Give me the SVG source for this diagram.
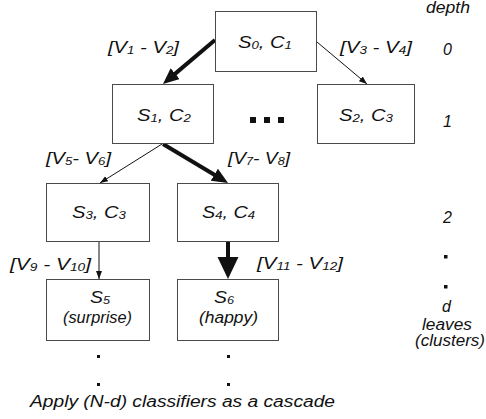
<svg xmlns="http://www.w3.org/2000/svg" width="486" height="419" viewBox="0 0 486 419">
<style>
.box{fill:#fff;stroke:#4a4a4a;stroke-width:1}
.t{font-family:"Liberation Sans",Arial,sans-serif;font-style:italic;font-size:16px;fill:#111}
.sub{font-size:10.5px}
.thin{stroke:#111;stroke-width:1;fill:none}
.thick{stroke:#111;stroke-width:4;fill:none}
.dot{fill:#111}
</style>
<defs>
<marker id="ah" markerUnits="userSpaceOnUse" markerWidth="9" markerHeight="7" refX="8" refY="3" orient="auto"><path d="M0,0 L8,3 L0,6 z" fill="#111"/></marker>
<marker id="ahb" markerUnits="userSpaceOnUse" markerWidth="17" markerHeight="15" refX="3" refY="7" orient="auto"><path d="M0,0 L16,7 L0,14 z" fill="#111"/></marker>
<marker id="ahx" markerUnits="userSpaceOnUse" markerWidth="23" markerHeight="22" refX="3" refY="10.5" orient="auto"><path d="M0,0 L22,10.5 L0,21 z" fill="#111"/></marker>
</defs>
<g id="connectors">
<line class="thick" x1="215" y1="40" x2="172.9" y2="75.6" marker-end="url(#ahb)"/>
<line class="thin" x1="317" y1="42" x2="367" y2="84" marker-end="url(#ah)"/>
<line class="thin" x1="162" y1="144" x2="100" y2="183" marker-end="url(#ah)"/>
<line class="thick" x1="163" y1="144" x2="216.9" y2="176.3" marker-end="url(#ahb)"/>
<line class="thin" x1="99" y1="242" x2="99" y2="279" marker-end="url(#ah)"/>
<line class="thick" x1="228" y1="242" x2="228" y2="260" stroke-width="5" marker-end="url(#ahx)"/>
</g>
<g id="n0"><rect class="box" x="215.5" y="11.5" width="101" height="60"/>
<text class="t" x="238" y="48" textLength="54" lengthAdjust="spacingAndGlyphs">S<tspan class="sub" dy="1">0</tspan><tspan dy="-1">, C</tspan><tspan class="sub" dy="1">1</tspan></text></g>
<g id="n1"><rect class="box" x="112.5" y="84.5" width="101" height="59"/>
<text class="t" x="137" y="121" textLength="54" lengthAdjust="spacingAndGlyphs">S<tspan class="sub" dy="1">1</tspan><tspan dy="-1">, C</tspan><tspan class="sub" dy="1">2</tspan></text></g>
<g id="n2"><rect class="box" x="317.5" y="84.5" width="97" height="59"/>
<text class="t" x="339" y="121" textLength="54" lengthAdjust="spacingAndGlyphs">S<tspan class="sub" dy="1">2</tspan><tspan dy="-1">, C</tspan><tspan class="sub" dy="1">3</tspan></text></g>
<g id="ellipsis"><rect class="dot" x="250" y="117" width="6" height="6"/><rect class="dot" x="264" y="117" width="6" height="6"/><rect class="dot" x="278" y="117" width="6" height="6"/></g>
<g id="n3"><rect class="box" x="46.5" y="183.5" width="103" height="58"/>
<text class="t" x="72" y="218" textLength="54" lengthAdjust="spacingAndGlyphs">S<tspan class="sub" dy="1">3</tspan><tspan dy="-1">, C</tspan><tspan class="sub" dy="1">3</tspan></text></g>
<g id="n4"><rect class="box" x="177.5" y="183.5" width="101" height="58"/>
<text class="t" x="202" y="218" textLength="53" lengthAdjust="spacingAndGlyphs">S<tspan class="sub" dy="1">4</tspan><tspan dy="-1">, C</tspan><tspan class="sub" dy="1">4</tspan></text></g>
<g id="n5"><rect class="box" x="46.5" y="279.5" width="103" height="61"/>
<text class="t" x="90" y="303" textLength="20" lengthAdjust="spacingAndGlyphs">S<tspan class="sub" dy="1">5</tspan></text>
<text class="t" x="63" y="323" textLength="69" lengthAdjust="spacingAndGlyphs">(surprise)</text></g>
<g id="n6"><rect class="box" x="177.5" y="279.5" width="101" height="61"/>
<text class="t" x="214" y="303" textLength="20" lengthAdjust="spacingAndGlyphs">S<tspan class="sub" dy="1">6</tspan></text>
<text class="t" x="199" y="323" textLength="59" lengthAdjust="spacingAndGlyphs">(happy)</text></g>
<g id="edge-labels">
<text class="t" x="108" y="53" textLength="71" lengthAdjust="spacingAndGlyphs">[V<tspan class="sub" dy="1">1</tspan><tspan dy="-1"> - V</tspan><tspan class="sub" dy="1">2</tspan><tspan dy="-1">]</tspan></text>
<text class="t" x="340" y="53" textLength="72" lengthAdjust="spacingAndGlyphs">[V<tspan class="sub" dy="1">3</tspan><tspan dy="-1"> - V</tspan><tspan class="sub" dy="1">4</tspan><tspan dy="-1">]</tspan></text>
<text class="t" x="46" y="164" textLength="65" lengthAdjust="spacingAndGlyphs">[V<tspan class="sub" dy="1">5</tspan><tspan dy="-1">- V</tspan><tspan class="sub" dy="1">6</tspan><tspan dy="-1">]</tspan></text>
<text class="t" x="228" y="164" textLength="62" lengthAdjust="spacingAndGlyphs">[V<tspan class="sub" dy="1">7</tspan><tspan dy="-1">- V</tspan><tspan class="sub" dy="1">8</tspan><tspan dy="-1">]</tspan></text>
<text class="t" x="10" y="270" textLength="81" lengthAdjust="spacingAndGlyphs">[V<tspan class="sub" dy="1">9</tspan><tspan dy="-1"> - V</tspan><tspan class="sub" dy="1">10</tspan><tspan dy="-1">]</tspan></text>
<text class="t" x="257" y="269" textLength="86" lengthAdjust="spacingAndGlyphs">[V<tspan class="sub" dy="1">11</tspan><tspan dy="-1"> - V</tspan><tspan class="sub" dy="1">12</tspan><tspan dy="-1">]</tspan></text>
</g>
<g id="depth">
<text class="t" x="426" y="13" textLength="44" lengthAdjust="spacingAndGlyphs">depth</text>
<text class="t" x="443" y="55">0</text>
<text class="t" x="443" y="127">1</text>
<text class="t" x="443" y="223">2</text>
<rect class="dot" x="444" y="255" width="3.5" height="3.5"/>
<rect class="dot" x="444" y="285" width="3.5" height="3.5"/>
<text class="t" x="442" y="312">d</text>
<text class="t" x="422" y="330" font-size="14" textLength="50" lengthAdjust="spacingAndGlyphs">leaves</text>
<text class="t" x="415" y="346" font-size="14" textLength="70" lengthAdjust="spacingAndGlyphs">(clusters)</text>
</g>
<g id="cascade">
<rect class="dot" x="97" y="355" width="3" height="3"/>
<rect class="dot" x="227" y="355" width="3" height="3"/>
<rect class="dot" x="97" y="383" width="3" height="3"/>
<rect class="dot" x="227" y="383" width="3" height="3"/>
<text class="t" x="30" y="407" textLength="305" lengthAdjust="spacingAndGlyphs">Apply (N-d) classifiers as a cascade</text>
</g>
</svg>
